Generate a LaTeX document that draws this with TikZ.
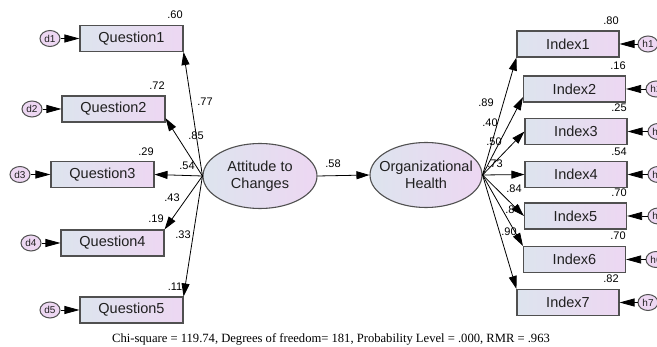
\documentclass[tikz,border=0pt]{standalone}
\usepackage{fontspec}
\setmainfont{Liberation Serif}
\newfontfamily\arialf{Liberation Sans}
\usetikzlibrary{arrows.meta,shapes.geometric}
\definecolor{boxL}{HTML}{DDE4EE}
\definecolor{boxR}{HTML}{EDD7F2}
\definecolor{edge}{HTML}{505050}
\definecolor{txt}{HTML}{202020}
\tikzset{
  obsbox/.style={draw=edge, line width=1.1pt, left color=boxL, right color=boxR,
    minimum width=103pt, minimum height=26pt, inner sep=0pt, text=txt,
    font=\arialf\fontsize{14.5}{16}\selectfont},
  latent/.style={draw=edge, line width=1.1pt, ellipse, left color=boxL, right color=boxR,
    minimum width=#1, minimum height=65pt, inner xsep=-10pt, inner ysep=0pt, align=center, text=txt,
    font=\arialf\fontsize{14.5}{17}\selectfont},
  errc/.style={draw=edge, line width=1pt, ellipse, fill=boxR, minimum width=20pt,
    minimum height=16pt, inner sep=0pt, text=txt, font=\arialf\fontsize{10}{11}\selectfont},
  num/.style={inner sep=0pt, text=black, font=\arialf\fontsize{11}{12}\selectfont},
  loadpath/.style={draw=black, line width=0.8pt, -{Triangle[length=13pt,width=8pt]}},
  errpath/.style={draw=black, line width=0.8pt, -{Triangle[length=15pt,width=8pt]}},
}
\begin{document}
\begin{tikzpicture}[x=1pt,y=-1pt]
\useasboundingbox (0,0) rectangle (657,347);
\clip (0,0) rectangle (657,347);
\fill[white] (0,0) rectangle (657,347);

% latent variables
\node[latent=114pt] (att) at (260,176) {Attitude to\\Changes};
\node[latent=112pt] (org) at (426,175) {Organizational\\Health};

% observed left
\node[obsbox] (q1) at (131.5,38.5) {Question1};
\node[obsbox] (q2) at (113.5,109) {Question2};
\node[obsbox] (q3) at (102.5,174.5) {Question3};
\node[obsbox] (q4) at (112.5,243) {Question4};
\node[obsbox] (q5) at (131.5,310) {Question5};

% observed right
\node[obsbox, minimum width=102pt] (i1) at (568,44) {Index1};
\node[obsbox, minimum width=102pt] (i2) at (574.5,89) {Index2};
\node[obsbox, minimum width=102pt] (i3) at (576,131.5) {Index3};
\node[obsbox, minimum width=102pt] (i4) at (576,174.5) {Index4};
\node[obsbox, minimum width=102pt] (i5) at (575.5,216) {Index5};
\node[obsbox, minimum width=102pt] (i6) at (574.5,259.5) {Index6};
\node[obsbox, minimum width=102pt] (i7) at (568,302.5) {Index7};

% error terms
\node[errc] (d1) at (50,38.5) {d1};
\node[errc] (d2) at (32,109) {d2};
\node[errc] (d3) at (20,174.5) {d3};
\node[errc] (d4) at (31,243) {d4};
\node[errc] (d5) at (50,310) {d5};
\node[errc] (h1) at (648,44) {h1};
\node[errc] (h2) at (656,89) {h2};
\node[errc] (h3) at (658,131.5) {h3};
\node[errc] (h4) at (658,174.5) {h4};
\node[errc] (h5) at (658,216) {h5};
\node[errc] (h6) at (656,259.5) {h6};
\node[errc] (h7) at (648,302.5) {h7};

% error paths
\foreach \e/\b in {d1/q1,d2/q2,d3/q3,d4/q4,d5/q5}
  \draw[errpath] (\e.east) -- (\b.west);
\foreach \e/\b in {h1/i1,h2/i2,h3/i3,h4/i4,h5/i5,h6/i6,h7/i7}
  \draw[errpath] (\e.west) -- (\b.east);

% loadings left
\draw[loadpath] (att.west) -- (q1.south east);
\draw[loadpath] (att.west) -- (q2.-10);
\draw[loadpath] (att.west) -- (q3.east);
\draw[loadpath] (att.west) -- (q4.north east);
\draw[loadpath] (att.west) -- (q5.north east);

% structural path
\draw[loadpath] (att.east) -- (org.west);

% loadings right
\draw[loadpath] (org.east) -- (i1.south west);
\draw[loadpath] (org.east) -- (i2.189);
\draw[loadpath] (org.east) -- (i3.west);
\draw[loadpath] (org.east) -- (i4.west);
\draw[loadpath] (org.east) -- (i6.north west);
\draw[loadpath] (org.east) -- (i7.north west);

% squared multiple correlations
\node[num] (r1) at (175,15) {.60};
\node[num] (r2) at (157,86) {.72};
\node[num] (r3) at (146,152) {.29};
\node[num] (r4) at (156,219) {.19};
\node[num] (r5) at (175,287) {.11};
\node[num] (s1) at (611,21) {.80};
\node[num] (s2) at (618,66) {.16};
\node[num] (s3) at (619,108) {.25};
\node[num] (s4) at (619,152) {.54};
\node[num] (s5) at (619,193) {.70};
\node[num] (s6) at (618,236) {.70};
\node[num] (s7) at (611,279) {.82};

% loadings
\node[num] (l1) at (205,102) {.77};
\node[num] (l2) at (196,136) {.85};
\node[num] (l3) at (187,166) {.54};
\node[num] (l4) at (172,198) {.43};
\node[num] (l5) at (183,235) {.33};
\node[num] (lc) at (333,164) {.58};
\node[num] (m1) at (486,103) {.89};
\node[num] (m2) at (490,123) {.40};
\node[num] (m3) at (494,142) {.50};
\node[num] (m4) at (495,164) {.73};
\node[num] (m5) at (514,189) {.84};
\node[num] (m6) at (513,210) {.84};
\node[num] (m7) at (509,232) {.90};

% arrow drawn over the partly hidden label
\draw[loadpath] (org.east) -- (i5.west);

% fit statistics
\node[inner sep=0pt, font=\fontsize{12.6}{14}\selectfont] (fit) at (331,339)
  {Chi-square = 119.74, Degrees of freedom= 181, Probability Level = .000, RMR = .963};
\end{tikzpicture}
\end{document}
